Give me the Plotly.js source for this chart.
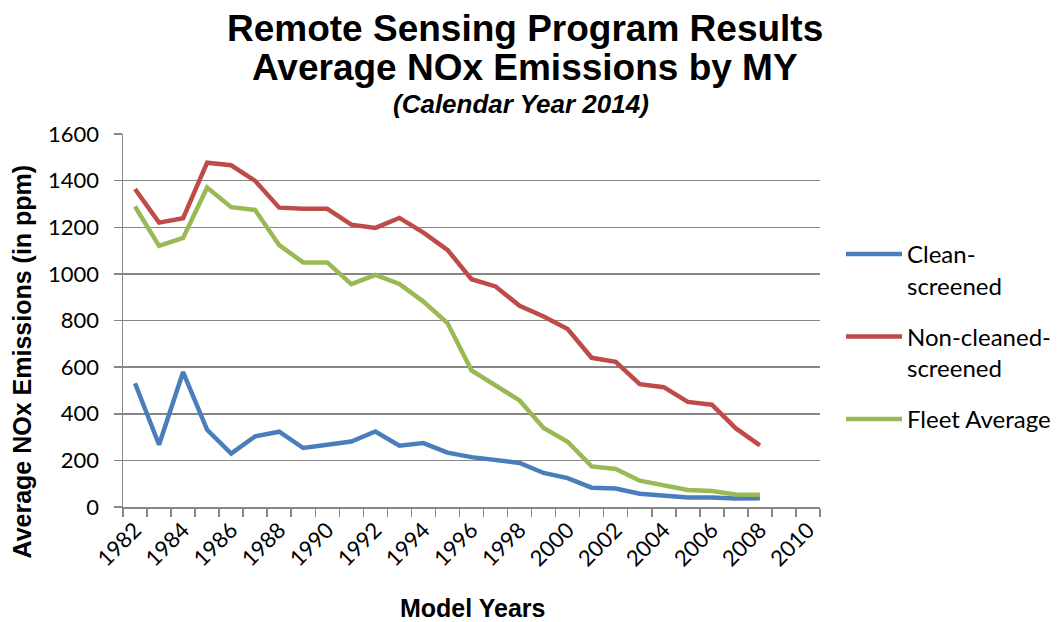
<!DOCTYPE html>
<html>
<head>
<meta charset="utf-8">
<script src="https://cdn.plot.ly/plotly-3.0.1.min.js"></script>
<style>html,body{margin:0;padding:0;background:#fff;}#chart{width:1060px;height:622px;}</style>
</head>
<body>
<div id="chart"></div>
<script>
const years = [1982,1983,1984,1985,1986,1987,1988,1989,1990,1991,1992,1993,1994,1995,1996,1997,1998,1999,2000,2001,2002,2003,2004,2005,2006,2007,2008];
const cleanScreened = [531,267,579,331,229,303,323,253,267,281,324,263,274,233,214,200,189,146,124,83,79,57,49,41,41,36,37];
const nonCleanedScreened = [1364,1220,1239,1477,1466,1399,1284,1279,1279,1211,1197,1240,1177,1103,977,946,863,817,763,640,623,527,514,451,439,337,264];
const fleetAverage = [1289,1120,1154,1370,1286,1274,1123,1049,1049,956,996,957,881,789,586,524,457,339,280,174,163,113,94,73,69,54,53];
const tickYears = [1982,1984,1986,1988,1990,1992,1994,1996,1998,2000,2002,2004,2006,2008,2010];
const seriesNames = ["Clean-<br>screened","Non-cleaned-<br>screened","Fleet Average"];
const titleLines = ["Remote Sensing Program Results","Average NOx Emissions by MY","(Calendar Year 2014)"];
const yTitle = "Average NOx Emissions (in ppm)";
const xTitle = "Model Years";

const traces = [
  {x: years, y: cleanScreened, name: seriesNames[0], legendgroup: 'a', mode: 'lines', line: {color: '#4A7EBB', width: 4.5}},
  {x: years, y: nonCleanedScreened, name: seriesNames[1], legendgroup: 'b', mode: 'lines', line: {color: '#BE4B48', width: 4.5}},
  {x: years, y: fleetAverage, name: seriesNames[2], legendgroup: 'c', mode: 'lines', line: {color: '#98B954', width: 4.5}}
];

const gridColor = '#868686';
const arial = 'Liberation Sans, Arial, sans-serif';
const layout = {
  width: 1060, height: 622,
  margin: {l: 123, r: 240, t: 134, b: 115},
  paper_bgcolor: '#fff', plot_bgcolor: '#fff',
  font: {family: arial, color: '#000'},
  annotations: [
    {text: '<b>' + titleLines[0] + '</b>', xref: 'paper', yref: 'paper', x: 0.577, y: 1.282, xanchor: 'center', yanchor: 'middle', showarrow: false, font: {size: 37, family: arial}},
    {text: '<b>' + titleLines[1] + '</b>', xref: 'paper', yref: 'paper', x: 0.577, y: 1.177, xanchor: 'center', yanchor: 'middle', showarrow: false, font: {size: 37, family: arial}},
    {text: '<b><i>' + titleLines[2] + '</i></b>', xref: 'paper', yref: 'paper', x: 0.571, y: 1.08, xanchor: 'center', yanchor: 'middle', showarrow: false, font: {size: 26, family: arial}},
    {text: '<b>' + yTitle + '</b>', xref: 'paper', yref: 'paper', x: -0.145, y: 0.39, xanchor: 'center', yanchor: 'middle', textangle: -90, showarrow: false, font: {size: 25, family: arial}},
    {text: '<b>' + xTitle + '</b>', xref: 'paper', yref: 'paper', x: 0.502, y: -0.27, xanchor: 'center', yanchor: 'middle', showarrow: false, font: {size: 25, family: arial}}
  ],
  xaxis: {
    range: [1981.5, 2010.5],
    tickmode: 'array', tickvals: tickYears, ticktext: tickYears.map(String),
    tickangle: -45, ticks: '', ticklen: 0,
    tickfont: {size: 22, family: 'Lato, Liberation Sans, sans-serif'},
    showgrid: false, zeroline: false,
    showline: true, linecolor: gridColor, linewidth: 1.5,
    minor: {tick0: 1981.5, dtick: 1, ticks: 'outside', ticklen: 8, tickcolor: gridColor, tickwidth: 1.5, showgrid: false}
  },
  yaxis: {
    range: [0, 1600], dtick: 200,
    ticks: 'outside', ticklen: 8, tickcolor: gridColor, tickwidth: 1.5,
    ticklabelstandoff: 10,
    tickfont: {size: 22, family: 'Lato, Liberation Sans, sans-serif'},
    showgrid: true, gridcolor: gridColor, gridwidth: 1.5,
    zeroline: false, showline: true, linecolor: gridColor, linewidth: 1.5
  },
  legend: {
    xref: 'container', yref: 'container',
    x: 0.7934, xanchor: 'left', y: 0.627, yanchor: 'top',
    font: {size: 24, family: 'Lato, Liberation Sans, sans-serif'},
    valign: 'top', itemwidth: 56, tracegroupgap: 17,
    bgcolor: 'rgba(0,0,0,0)'
  },
  showlegend: true
};

Plotly.newPlot('chart', traces, layout, {displayModeBar: false, staticPlot: true});
</script>
</body>
</html>
